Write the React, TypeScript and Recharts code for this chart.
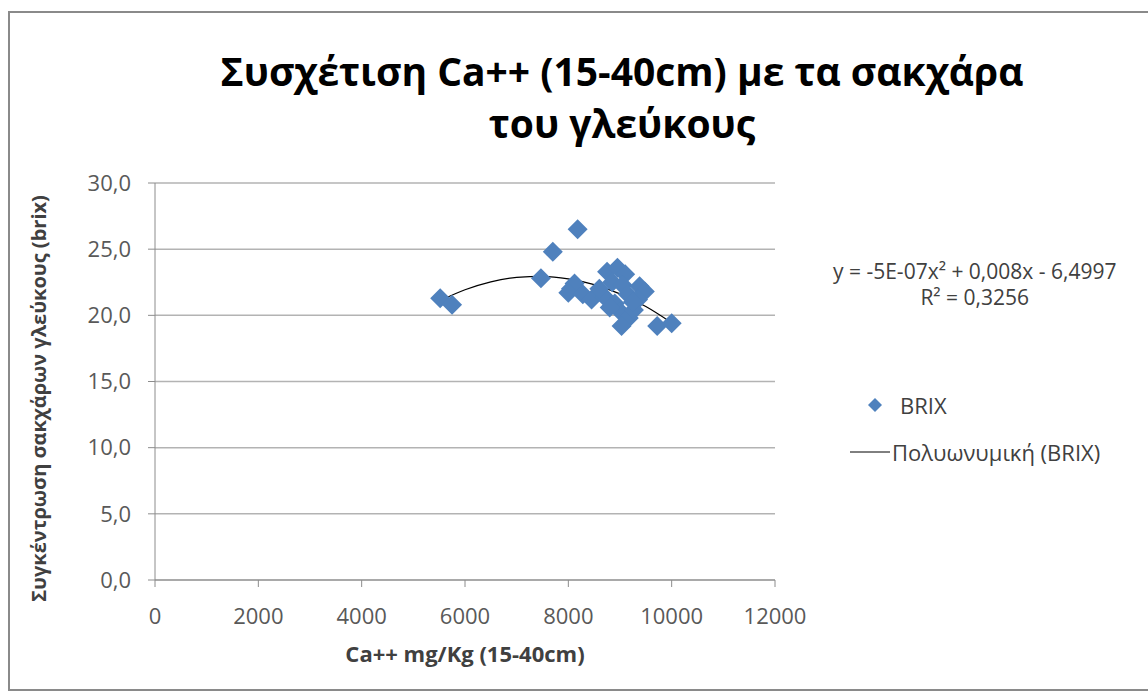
import React from "react";
import {
    ComposedChart,
    Scatter,
    Line,
    XAxis,
    YAxis,
    CartesianGrid,
    Legend,
} from "recharts";

// Ca++ (mg/Kg) and BRIX readings
const caValues = [
    5520, 5750, 7470, 7700, 8180, 8050, 8120, 8000, 8280, 8450, 8750, 8950, 9100,
    8850, 9050, 9380, 9480, 9350, 8700, 8900, 9150, 9000, 9170, 9030, 9270, 8800,
    9720, 10000, 8600, 9250,
];
const brixValues = [
    21.3, 20.8, 22.8, 24.8, 26.5, 22.0, 22.4, 21.7, 21.6, 21.2, 23.3, 23.6, 23.1,
    22.5, 22.3, 22.2, 21.8, 21.2, 21.4, 20.9, 21.6, 20.3, 19.8, 19.2, 20.4, 20.6,
    19.2, 19.4, 22.0, 21.0,
];

// polynomial trendline
const trendX = [5550, 6000, 6500, 7000, 7500, 8000, 8500, 9000, 9500, 10000];
const trendY = [21.17, 21.93, 22.53, 22.87, 22.95, 22.76, 22.32, 21.62, 20.66, 19.43];

const xTicks = [0, 2000, 4000, 6000, 8000, 10000, 12000];
const yTicks = [0, 5, 10, 15, 20, 25, 30];

const points = caValues.map((x, i) => ({ x, y: brixValues[i] }));
const trend = trendX.map((x, i) => ({ x, y: trendY[i] }));

const FONT = "'Open Sans', 'Noto Sans', sans-serif";
const BLUE = "#4F81BD";
const TXT = 22;

function Diamond(props: any) {
    const { cx, cy } = props;
    if (cx == null || cy == null) return null;
    const r = 10;
    return (
        <path
            d={`M${cx},${cy - r}L${cx + r},${cy}L${cx},${cy + r}L${cx - r},${cy}Z`}
            fill={BLUE}
        />
    );
}

function YTitle(props: any) {
    const vb = props.viewBox ?? { x: 0, y: 0, width: 0, height: 0 };
    const x = 38;
    const y = vb.y + vb.height / 2 + 17;
    return (
        <text
            x={x}
            y={y}
            transform={`rotate(-90, ${x}, ${y})`}
            textAnchor="middle"
            dominantBaseline="central"
            fontSize={20}
            fontWeight={700}
            fill="#404040"
            fontFamily={FONT}
        >
            Συγκέντρωση σακχάρων γλεύκους (brix)
        </text>
    );
}

function LegendBox({ payload }: any) {
    const items = payload ?? [];
    return (
        <div style={{ fontFamily: FONT, fontSize: TXT, color: "#404040" }}>
            {items.map((it: any) => (
                <div
                    key={it.value}
                    style={{ display: "flex", alignItems: "center", height: 47 }}
                >
                    {it.type === "line" ? (
                        <svg width={40} height={10}>
                            <line x1={0} y1={5} x2={40} y2={5} stroke="#000" strokeWidth={1} />
                        </svg>
                    ) : (
                        <svg width={40} height={16}>
                            <path d="M25,1L32,8L25,15L18,8Z" fill={BLUE} />
                        </svg>
                    )}
                    <span style={{ marginLeft: it.type === "line" ? 2 : 10 }}>{it.value}</span>
                </div>
            ))}
        </div>
    );
}

export default function App() {
    const fmtY = (v: number) => v.toFixed(1).replace(".", ",");

    return (
        <div
            style={{
                position: "absolute",
                left: 0,
                top: 0,
                width: 1148,
                height: 697,
                background: "#fff",
                overflow: "hidden",
                fontFamily: FONT,
            }}
        >
            <div
                style={{
                    position: "absolute",
                    left: 8,
                    top: 11,
                    width: 1160,
                    height: 680,
                    border: "2px solid #8a8a8a",
                    boxSizing: "border-box",
                }}
            />
            <div
                style={{
                    position: "absolute",
                    left: 0,
                    width: 1244,
                    top: 45,
                    textAlign: "center",
                    fontSize: 39,
                    fontWeight: 700,
                    lineHeight: "52px",
                    color: "#000",
                }}
            >
                Συσχέτιση Ca++ (15-40cm) με τα σακχάρα
                <br />
                του γλεύκους
            </div>
            <div
                style={{
                    position: "absolute",
                    left: 833,
                    top: 258,
                    fontSize: 21,
                    color: "#404040",
                    whiteSpace: "nowrap",
                    lineHeight: "26px",
                    textAlign: "center",
                }}
            >
                y = -5E-07x² + 0,008x - 6,4997
                <br />
                R² = 0,3256
            </div>
            <div style={{ position: "absolute", left: 0, top: 0 }}>
                <ComposedChart
                    width={1148}
                    height={697}
                    margin={{ top: 183, right: 373, bottom: 87, left: 95 }}
                >
                    <CartesianGrid vertical={false} stroke="#b3b3b3" strokeWidth={1.5} />
                    <XAxis
                        type="number"
                        dataKey="x"
                        domain={[0, 12000]}
                        ticks={xTicks}
                        interval={0}
                        height={30}
                        stroke="#8c8c8c"
                        tickSize={7}
                        tickMargin={21}
                        tick={{ fontSize: TXT, fill: "#595959", fontFamily: FONT }}
                        label={{
                            value: "Ca++ mg/Kg (15-40cm)",
                            position: "insideBottom",
                            offset: -52,
                            style: { fontSize: TXT, fontWeight: 700, fill: "#404040", fontFamily: FONT },
                        }}
                    />
                    <YAxis
                        type="number"
                        dataKey="y"
                        domain={[0, 30]}
                        ticks={yTicks}
                        interval={0}
                        width={60}
                        stroke="#8c8c8c"
                        tickSize={7}
                        tickMargin={17}
                        tickFormatter={fmtY}
                        tick={{ fontSize: TXT, fill: "#595959", fontFamily: FONT }}
                        label={<YTitle />}
                    />
                    <Legend
                        layout="vertical"
                        verticalAlign="middle"
                        align="center"
                        wrapperStyle={{ left: 850, top: 381, width: 298 }}
                        content={<LegendBox />}
                    />
                    <Scatter
                        name="BRIX"
                        data={points}
                        dataKey="y"
                        legendType="diamond"
                        fill={BLUE}
                        shape={<Diamond />}
                        isAnimationActive={false}
                    />
                    <Line
                        name="Πολυωνυμική (BRIX)"
                        data={trend}
                        dataKey="y"
                        type="monotone"
                        stroke="#000"
                        strokeWidth={1.2}
                        dot={false}
                        activeDot={false}
                        legendType="line"
                        isAnimationActive={false}
                    />
                </ComposedChart>
            </div>
        </div>
    );
}
